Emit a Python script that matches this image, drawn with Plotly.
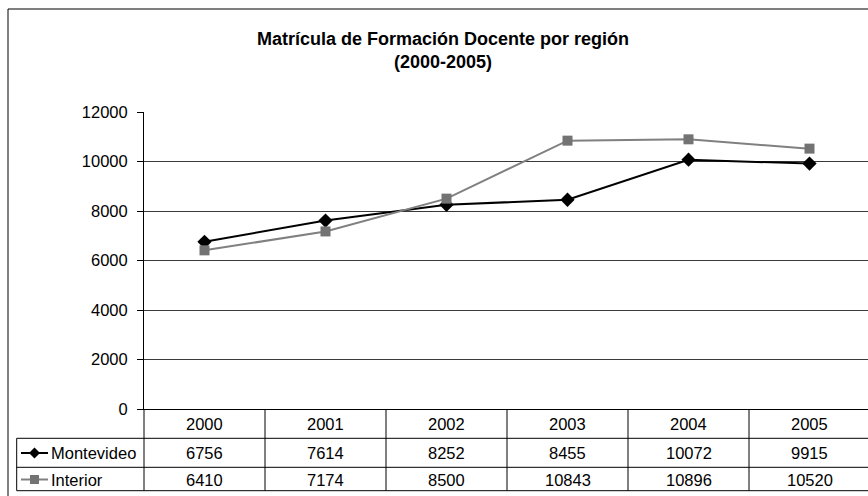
import plotly.graph_objects as go

# Enrolment in teacher-training programmes by region
years = ["2000", "2001", "2002", "2003", "2004", "2005"]
montevideo = [6756, 7614, 8252, 8455, 10072, 9915]
interior = [6410, 7174, 8500, 10843, 10896, 10520]
series_names = ["Montevideo", "Interior"]
y_ticks = [0, 2000, 4000, 6000, 8000, 10000, 12000]
y_tick_text = [str(v) for v in y_ticks]

W, H = 868, 496
L, R, T, B = 144, 0, 112, 87
PW, PH = W - L - R, H - T - B
BAND = 121.0  # pixel width of one category column

FONT = "Liberation Sans, Arial, sans-serif"


def xp(px):
    return (px - L) / PW


def yp(py):
    return (H - B - py) / PH


xpos = list(range(len(years)))
x_hi = -0.5 + PW / BAND

fig = go.Figure()
fig.add_trace(go.Scatter(
    x=xpos, y=montevideo, name=series_names[0], mode="lines+markers",
    line=dict(color="#000000", width=2),
    marker=dict(symbol="diamond", size=11, color="#000000"),
    cliponaxis=False,
))
fig.add_trace(go.Scatter(
    x=xpos, y=interior, name=series_names[1], mode="lines+markers",
    line=dict(color="#808080", width=2),
    marker=dict(symbol="square", size=10, color="#737373"),
    cliponaxis=False,
))

shapes = []
annotations = []

# outer chart frame
shapes.append(dict(type="rect", xref="paper", yref="paper",
                   x0=xp(8), x1=xp(W + 5), y0=yp(H + 5), y1=yp(9),
                   line=dict(color="#000000", width=1), layer="below"))

# data table below the plot: row borders
row_top, row1, row2, row_bot = 409.3, 438.3, 467.3, 490.7
for py in (row1, row2, row_bot):
    shapes.append(dict(type="line", xref="paper", yref="paper",
                       x0=xp(16.7), x1=xp(W + 5), y0=yp(py), y1=yp(py),
                       line=dict(color="#000000", width=1)))
# table column borders
shapes.append(dict(type="line", xref="paper", yref="paper",
                   x0=xp(16.7), x1=xp(16.7), y0=yp(row1), y1=yp(row_bot),
                   line=dict(color="#000000", width=1)))
shapes.append(dict(type="line", xref="paper", yref="paper",
                   x0=0, x1=0, y0=0, y1=yp(row_bot),
                   line=dict(color="#000000", width=1)))
for i in range(len(years) - 1):
    shapes.append(dict(type="line", xref="x", yref="paper",
                       x0=i + 0.5, x1=i + 0.5, y0=0, y1=yp(row_bot),
                       line=dict(color="#000000", width=1)))

cell_font = dict(family=FONT, size=16.5, color="#000000")
hdr_y, r1_y, r2_y = 424, 453, 479.5
for i, yr in enumerate(years):
    annotations.append(dict(x=i, y=yp(hdr_y), xref="x", yref="paper", text=yr,
                            showarrow=False, font=cell_font,
                            xanchor="center", yanchor="middle"))
    annotations.append(dict(x=i, y=yp(r1_y), xref="x", yref="paper",
                            text=str(montevideo[i]), showarrow=False,
                            font=cell_font, xanchor="center", yanchor="middle"))
    annotations.append(dict(x=i, y=yp(r2_y), xref="x", yref="paper",
                            text=str(interior[i]), showarrow=False,
                            font=cell_font, xanchor="center", yanchor="middle"))

# legend keys inside the table
for name, cy, lc, mc, sym in ((series_names[0], r1_y, "#000000", "#000000", "diamond"),
                              (series_names[1], r2_y, "#808080", "#737373", "square")):
    shapes.append(dict(type="line", xref="paper", yref="paper",
                       x0=xp(21), x1=xp(48), y0=yp(cy), y1=yp(cy),
                       line=dict(color=lc, width=2)))
    cx = 34.5
    if sym == "diamond":
        s = 5.5
        path = (f"M {xp(cx)} {yp(cy - s)} L {xp(cx + s)} {yp(cy)} "
                f"L {xp(cx)} {yp(cy + s)} L {xp(cx - s)} {yp(cy)} Z")
        shapes.append(dict(type="path", xref="paper", yref="paper", path=path,
                           fillcolor=mc, line=dict(width=0)))
    else:
        s = 4.5
        shapes.append(dict(type="rect", xref="paper", yref="paper",
                           x0=xp(cx - s), x1=xp(cx + s), y0=yp(cy + s), y1=yp(cy - s),
                           fillcolor=mc, line=dict(width=0)))
    annotations.append(dict(x=xp(49), y=yp(cy), xref="paper", yref="paper",
                            text=name, showarrow=False, font=cell_font,
                            xanchor="left", yanchor="middle"))

# chart title
annotations.append(dict(
    x=xp(443), y=yp(50.5), xref="paper", yref="paper",
    text="<b>Matrícula de Formación Docente por región<br>(2000-2005)</b>",
    showarrow=False, align="center", xanchor="center", yanchor="middle",
    font=dict(family=FONT, size=18, color="#000000"),
))

fig.update_layout(
    width=W, height=H,
    margin=dict(l=L, r=R, t=T, b=B, autoexpand=False),
    paper_bgcolor="#ffffff", plot_bgcolor="#ffffff",
    showlegend=False,
    shapes=shapes, annotations=annotations,
    font=dict(family=FONT, size=16, color="#000000"),
    xaxis=dict(range=[-0.5, x_hi], showgrid=False, zeroline=False,
               showticklabels=False, ticks="", showline=True,
               linecolor="#000000", linewidth=1, fixedrange=True),
    yaxis=dict(range=[0, 12000], tickmode="array", tickvals=y_ticks,
               ticktext=y_tick_text, showgrid=True,
               gridcolor="#3a3a3a", gridwidth=1, zeroline=False,
               showline=True, linecolor="#000000", linewidth=1,
               ticks="outside", ticklen=6, tickcolor="#000000",
               ticklabelstandoff=6,
               tickfont=dict(family=FONT, size=16.5, color="#000000"),
               fixedrange=True),
)

fig.write_html("out.html")
